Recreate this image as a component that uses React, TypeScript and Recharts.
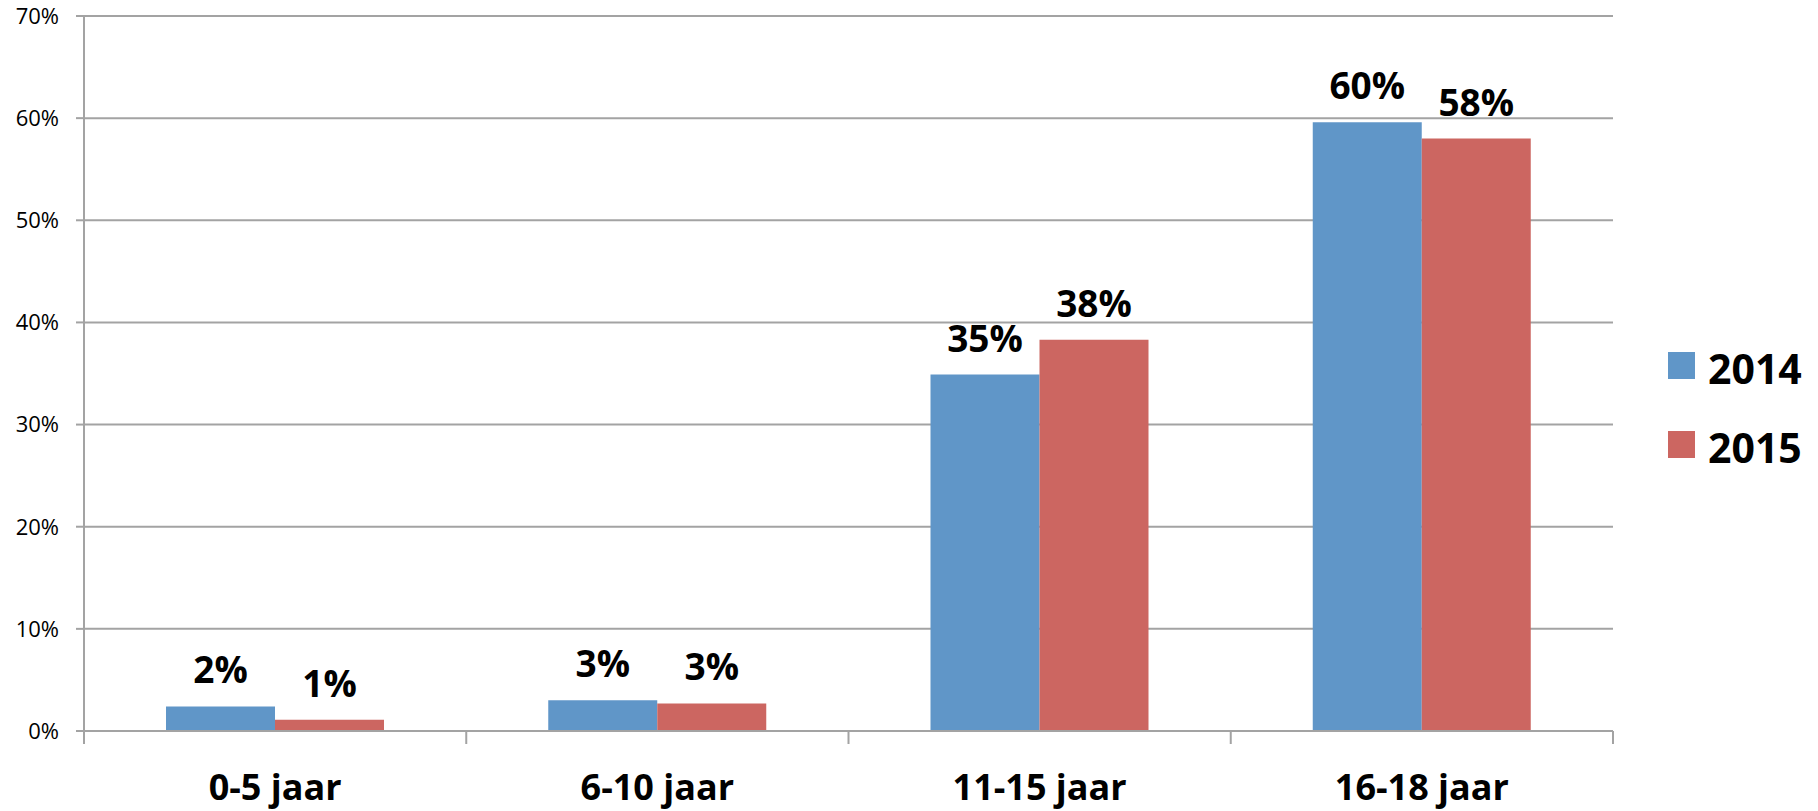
import React from 'react';
import { BarChart, Bar, XAxis, YAxis, CartesianGrid, Legend, LabelList } from 'recharts';

const categories = ['0-5 jaar', '6-10 jaar', '11-15 jaar', '16-18 jaar'];
const values2014 = [2.4, 3.0, 34.9, 59.6];
const values2015 = [1.1, 2.7, 38.3, 58.0];
const yTicks = [0, 10, 20, 30, 40, 50, 60, 70];
const seriesNames = ['2014', '2015'];
const seriesColors = ['#6096C8', '#CC6661'];

const data = categories.map((c, i) => ({ name: c, s2014: values2014[i], s2015: values2015[i] }));

const GRID = '#A3A3A3';
const FONT = '"Open Sans", sans-serif';

const CatTick = (props: any) => {
  const { x, y, payload, index, visibleTicksCount } = props;
  const half = payload && payload.offset ? payload.offset : 191;
  const last = index === (visibleTicksCount ?? categories.length) - 1;
  return (
    <g>
      <line x1={x - half} y1={y} x2={x - half} y2={y + 13} stroke={GRID} strokeWidth={2} />
      {last && <line x1={x + half} y1={y} x2={x + half} y2={y + 13} stroke={GRID} strokeWidth={2} />}
      <text x={x} y={y + 69} textAnchor="middle" fontSize={36} fontWeight="bold" fill="#000" fontFamily={FONT}>
        {payload.value}
      </text>
    </g>
  );
};

const renderLegend = () => (
  <div style={{ fontFamily: FONT, whiteSpace: 'nowrap', width: 150 }}>
    {seriesNames.map((n, i) => (
      <div key={n} style={{ display: 'flex', alignItems: 'center', height: 27, marginBottom: 52 }}>
        <div style={{ width: 27, height: 27, minWidth: 27, flexShrink: 0, background: seriesColors[i], marginRight: 13 }} />
        <span style={{ fontSize: 41, fontWeight: 'bold', lineHeight: '27px', position: 'relative', top: 3, color: '#000' }}>{n}</span>
      </div>
    ))}
  </div>
);

export default function App() {
  return (
    <div style={{ position: 'absolute', left: 0, top: 0, width: 1818, height: 811, background: '#fff', fontFamily: FONT }}>
      <BarChart width={1818} height={811} data={data} margin={{ top: 16, right: 205, bottom: 0, left: 0 }} barGap={0}>
        <CartesianGrid vertical={false} stroke={GRID} strokeWidth={2} />
        <XAxis
          dataKey="name"
          height={80}
          axisLine={{ stroke: GRID, strokeWidth: 2 }}
          tickLine={false}
          tickSize={0}
          tickMargin={0}
          tick={<CatTick />}
          interval={0}
        />
        <YAxis
          width={84}
          domain={[0, 70]}
          ticks={yTicks}
          interval={0}
          tickFormatter={(v: number) => `${v}%`}
          axisLine={{ stroke: GRID, strokeWidth: 2 }}
          tickLine={{ stroke: GRID, strokeWidth: 2 }}
          tickSize={8}
          tickMargin={17}
          tick={{ fontSize: 22, fill: '#000', fontFamily: FONT }}
        />
        <Legend
          layout="vertical"
          align="right"
          verticalAlign="top"
          wrapperStyle={{ left: 1668, top: 352, right: 'auto', width: 0, height: 0, overflow: 'visible' }}
          content={renderLegend}
        />
        <Bar dataKey="s2014" name={seriesNames[0]} fill={seriesColors[0]} barSize={109} isAnimationActive={false}>
          <LabelList dataKey="s2014" position="top" offset={23} formatter={(v: any) => `${Math.round(Number(v))}%`} style={{ fontSize: 37, fontWeight: 'bold', fill: '#000', fontFamily: FONT }} />
        </Bar>
        <Bar dataKey="s2015" name={seriesNames[1]} fill={seriesColors[1]} barSize={109} isAnimationActive={false}>
          <LabelList dataKey="s2015" position="top" offset={23} formatter={(v: any) => `${Math.round(Number(v))}%`} style={{ fontSize: 37, fontWeight: 'bold', fill: '#000', fontFamily: FONT }} />
        </Bar>
      </BarChart>
    </div>
  );
}
